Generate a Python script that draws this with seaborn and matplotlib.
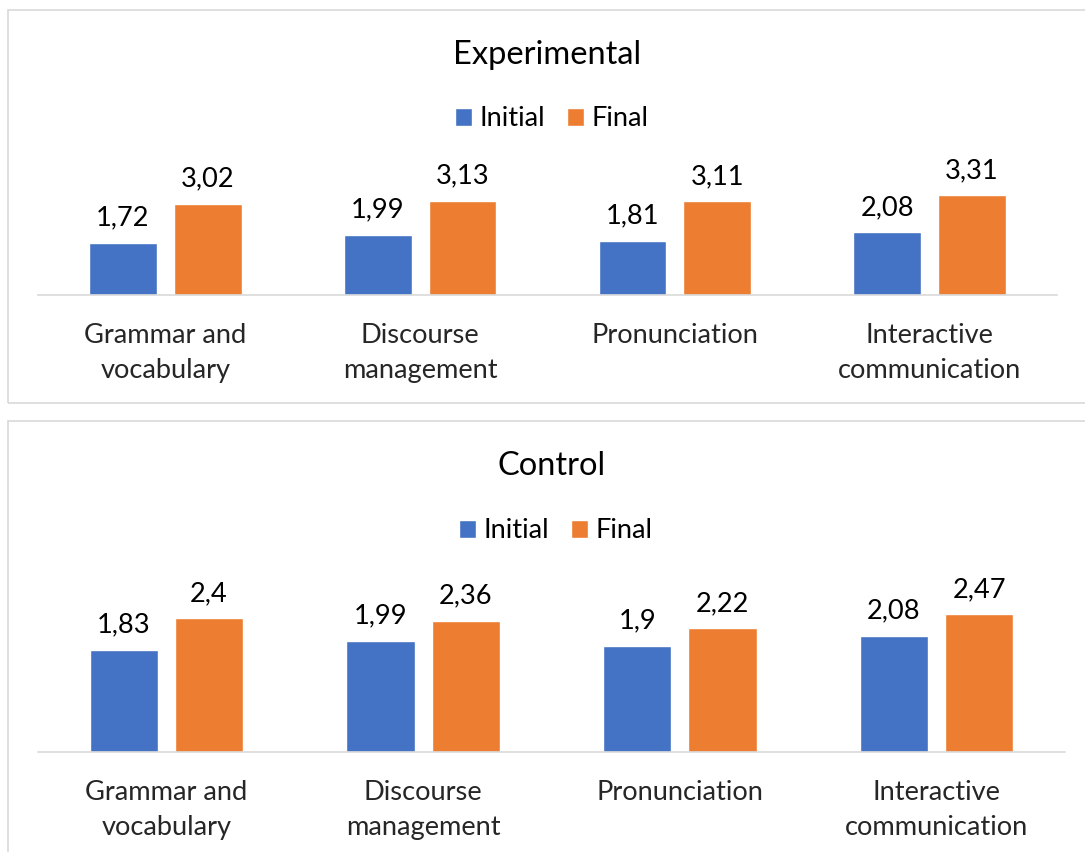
import matplotlib
matplotlib.use("Agg")
import matplotlib.pyplot as plt
from matplotlib.patches import Rectangle
import pandas as pd
import seaborn as sns

# Scores per speaking criterion, before (Initial) and after (Final)
categories = ["Grammar and\nvocabulary", "Discourse\nmanagement",
              "Pronunciation", "Interactive\ncommunication"]
phases = ["Initial", "Final"]
experimental_initial = [1.72, 1.99, 1.81, 2.08]
experimental_final = [3.02, 3.13, 3.11, 3.31]
control_initial = [1.83, 1.99, 1.90, 2.08]
control_final = [2.40, 2.36, 2.22, 2.47]

BLUE = "#4472C4"
ORANGE = "#ED7D31"
GRID = "#D9D9D9"
W, H = 1085, 852
FS = 19.6
TITLE_FS = 23.5

sns.set_theme(style="white")
plt.rcParams["font.family"] = ["Lato", "DejaVu Sans"]
plt.rcParams["text.color"] = "#000000"


def long_frame(initial, final):
    rows = []
    for cat, a, b in zip(categories, initial, final):
        rows.append({"criterion": cat, "phase": "Initial", "score": a})
        rows.append({"criterion": cat, "phase": "Final", "score": b})
    return pd.DataFrame(rows)


def fmt(v):
    return f"{v:g}".replace(".", ",")


fig = plt.figure(figsize=(W / 100, H / 100), dpi=100)


def panel(rect, ymax, title, title_y, legend_xy, initial, final, box):
    ax = fig.add_axes(rect)
    df = long_frame(initial, final)
    sns.barplot(data=df, x="criterion", y="score", hue="phase",
                hue_order=phases, palette=[BLUE, ORANGE], order=categories,
                width=0.665, gap=0.2, errorbar=None, ax=ax, saturation=1)
    ax.set_ylim(0, ymax)
    ax.set_xlim(-0.5, len(categories) - 0.5)
    ax.set_xlabel("")
    ax.set_ylabel("")
    ax.set_yticks([])
    for s in ("top", "left", "right"):
        ax.spines[s].set_visible(False)
    ax.spines["bottom"].set_color(GRID)
    ax.spines["bottom"].set_linewidth(1.2)
    ax.tick_params(axis="x", length=0, pad=20, labelsize=FS)
    for lab in ax.get_xticklabels():
        lab.set_linespacing(1.53)
    for cont, vals in zip(ax.containers, (initial, final)):
        ax.bar_label(cont, labels=[fmt(v) for v in vals], padding=9,
                     fontsize=FS)
    handles, labels = ax.get_legend_handles_labels()
    ax.legend(handles, labels, loc="center",
              bbox_to_anchor=legend_xy, bbox_transform=fig.transFigure,
              ncol=2, frameon=False, fontsize=FS, handlelength=0.6,
              handleheight=0.6, handletextpad=0.3, columnspacing=0.8,
              borderpad=0)
    cx = rect[0] + rect[2] / 2
    fig.text(cx, title_y, title, ha="center", va="baseline",
             fontsize=TITLE_FS)
    # chart-area frame
    x0, y0, x1, y1 = box
    fig.patches.append(Rectangle((x0 / W, 1 - y1 / H), (x1 - x0) / W,
                                 (y1 - y0) / H, transform=fig.transFigure,
                                 fill=False, edgecolor=GRID, linewidth=1.2,
                                 clip_on=False))
    return ax


panel([38 / W, 1 - 295 / H, (1057 - 38) / W, 144.5 / H], 4.8,
      "Experimental", 1 - 64 / H, (552 / W, 1 - 119 / H),
      experimental_initial, experimental_final, (8, 10, 1100, 403))

panel([38 / W, 1 - 752 / H, (1065 - 38) / W, 167.1 / H], 3.0,
      "Control", 1 - 475 / H, (556 / W, 1 - 531 / H),
      control_initial, control_final, (8, 421, 1100, 880))

fig.savefig("out.png", dpi=100)
